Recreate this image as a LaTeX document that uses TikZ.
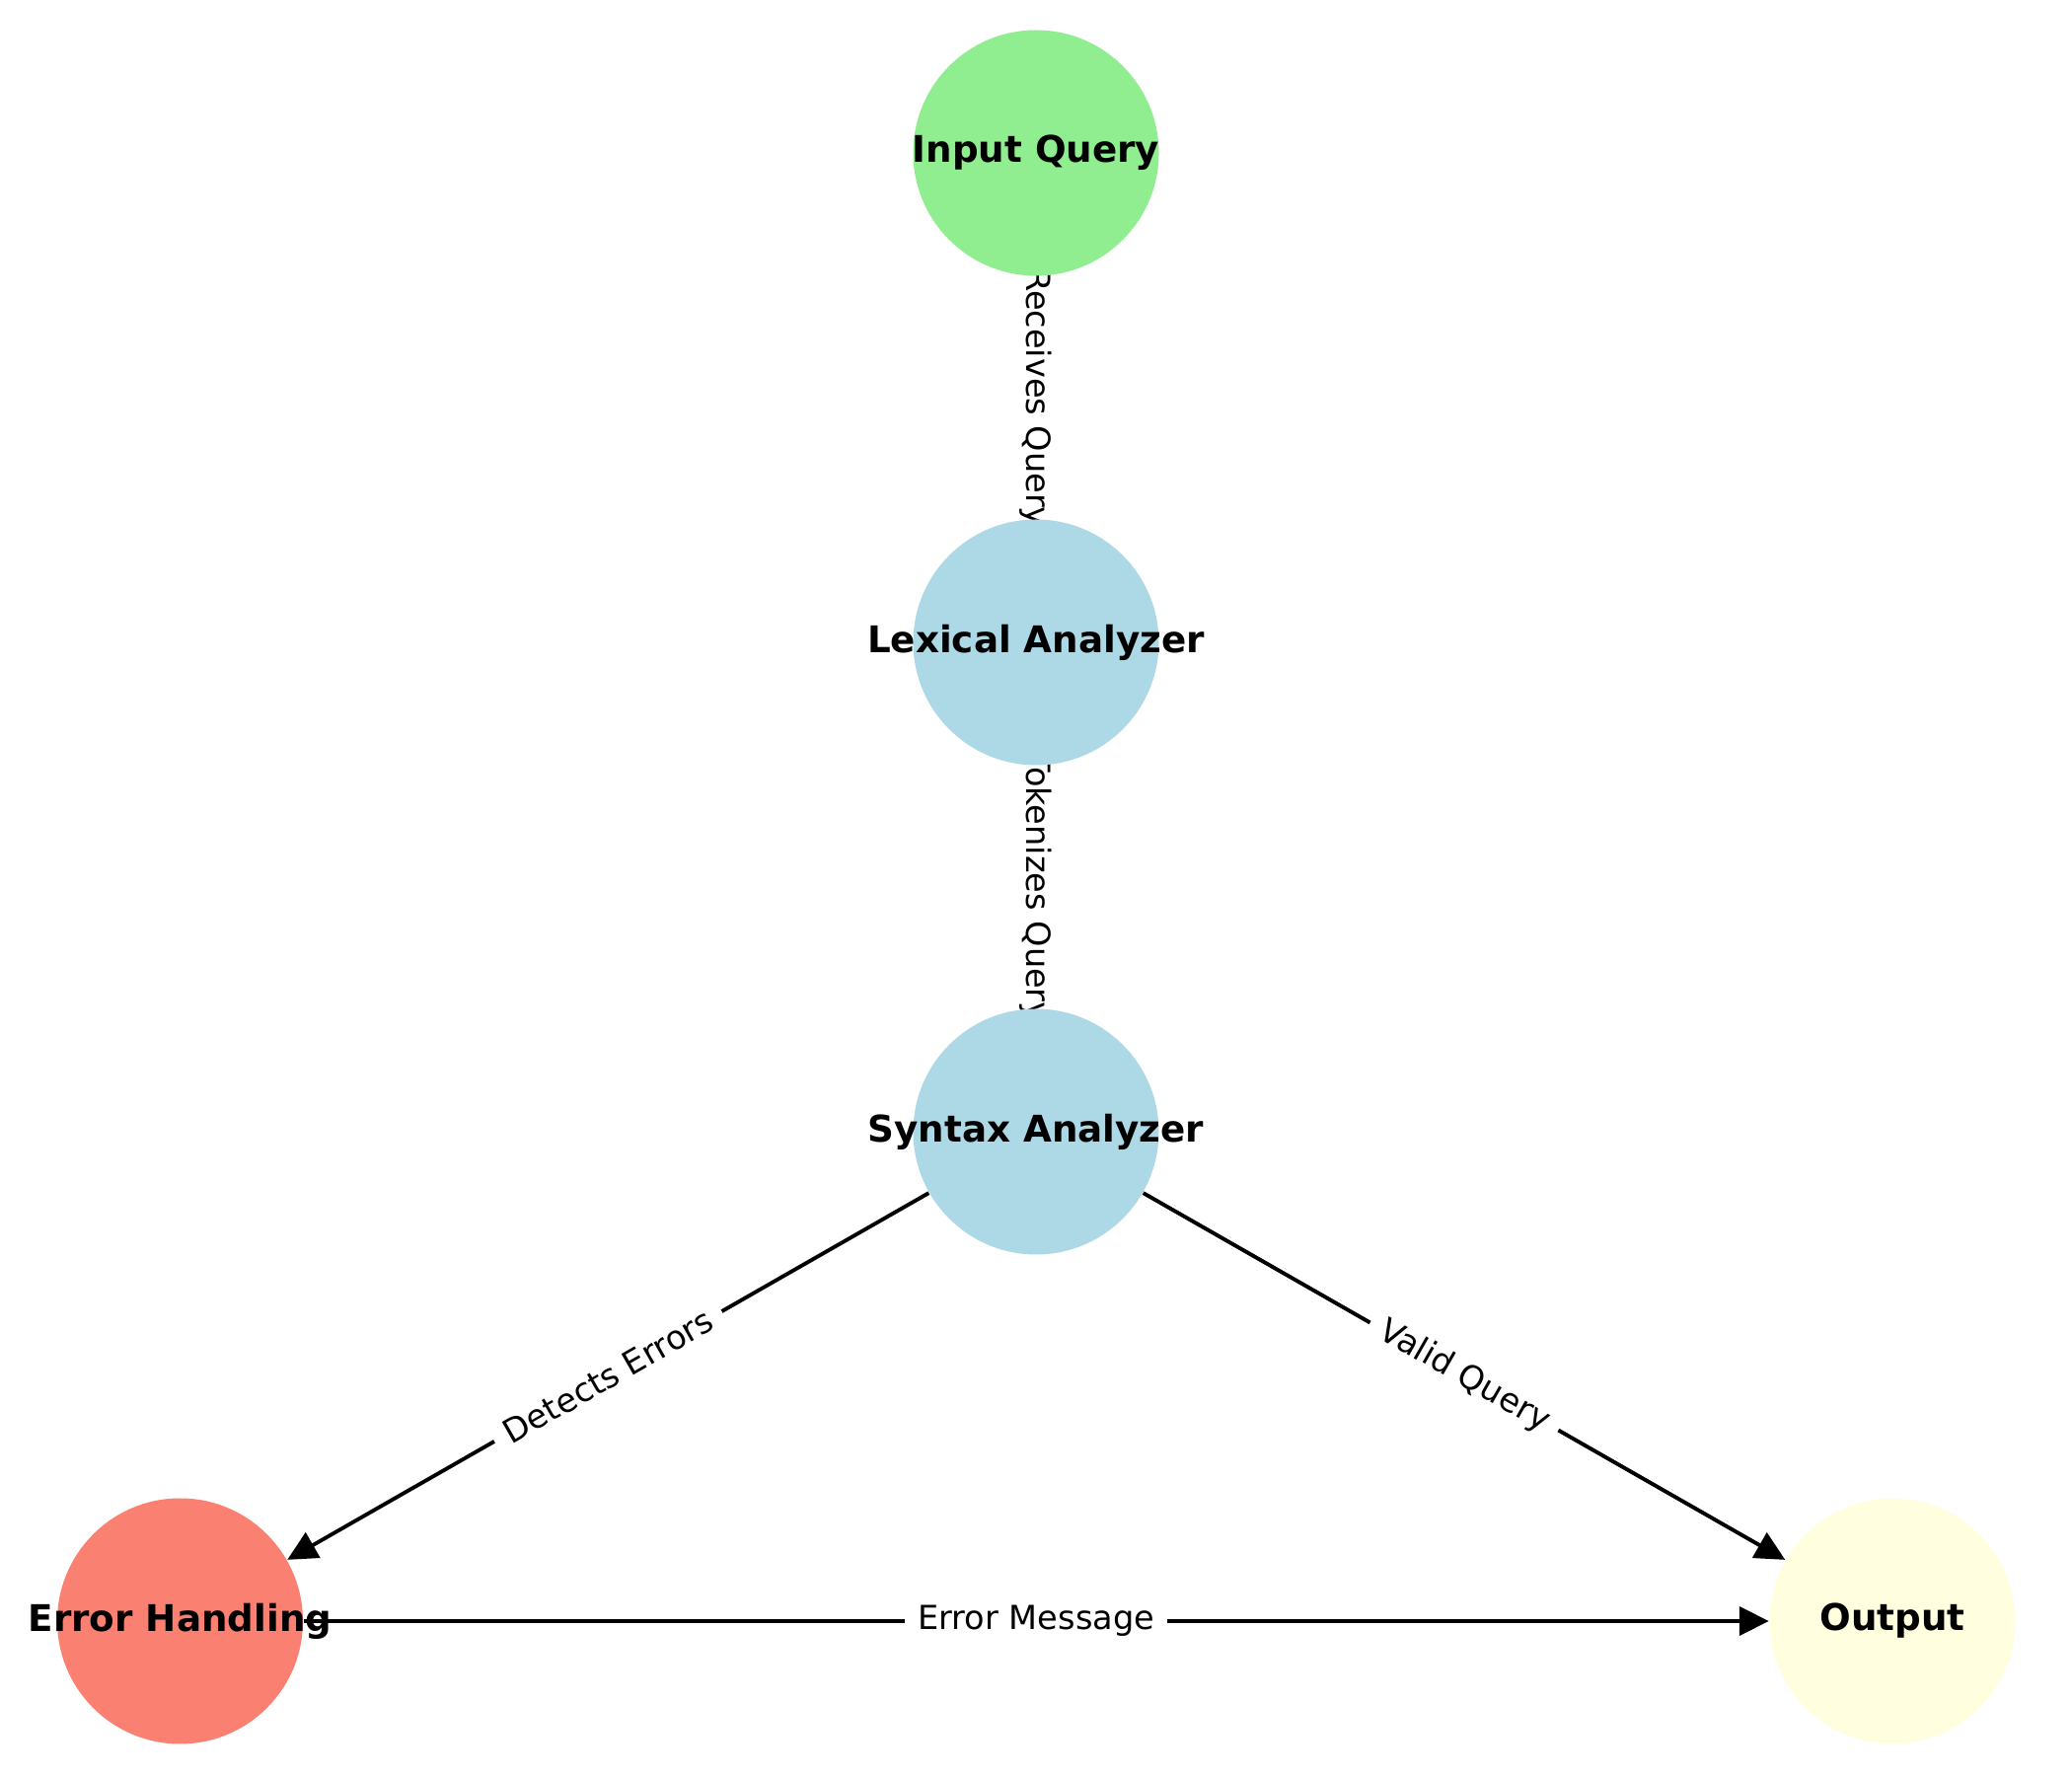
\documentclass[tikz,border=0pt]{standalone}
\usepackage{fontspec}
\setmainfont{DejaVu Sans}
\usetikzlibrary{arrows.meta}
\pgfdeclarelayer{background}
\pgfsetlayers{background,main}
\definecolor{cinput}{HTML}{90EE90}
\definecolor{cstage}{HTML}{ADD8E6}
\definecolor{cerror}{HTML}{FA8072}
\definecolor{coutput}{HTML}{FFFFE0}
% circle of fixed size whose text may overflow it
\newcommand{\stagetext}[1]{\makebox[0pt]{#1}}
\begin{document}
\begin{tikzpicture}[
  stage/.style={circle, minimum size=2.49cm, inner sep=0pt,
    font=\fontsize{10.6}{12}\selectfont\bfseries, text=black},
  flow/.style={line width=1.1pt, -{Triangle[length=3.0mm, width=2.9mm]}},
  elabel/.style={fill=white, inner sep=0.13cm, font=\fontsize{9.55}{11}\selectfont}
]
\useasboundingbox (0,0) rectangle (21,18);

\node[stage, fill=cinput]  (input)  at (10.5,16.45) {\stagetext{Input Query}};
\node[stage, fill=cstage]  (lex)    at (10.5,11.49) {\stagetext{Lexical Analyzer}};
\node[stage, fill=cstage]  (syn)    at (10.5,6.53)  {\stagetext{Syntax Analyzer}};
\node[stage, fill=cerror]  (err)    at (1.825,1.57) {\stagetext{Error Handling}};
\node[stage, fill=coutput] (out)    at (19.18,1.57) {\stagetext{Output}};

\begin{pgfonlayer}{background}
  \draw[flow] (input) -- node[elabel, rotate=-90] {Receives Query} (lex);
  \draw[flow] (lex) -- node[elabel, rotate=-90] {Tokenizes Query} (syn);
  \draw[flow] (syn) -- node[elabel, rotate=29.76] {Detects Errors} (err);
  \draw[flow] (syn) -- node[elabel, rotate=-29.76] {Valid Query} (out);
  \draw[flow] (err) -- node[elabel] {Error Message} (out);
\end{pgfonlayer}
\end{tikzpicture}
\end{document}
